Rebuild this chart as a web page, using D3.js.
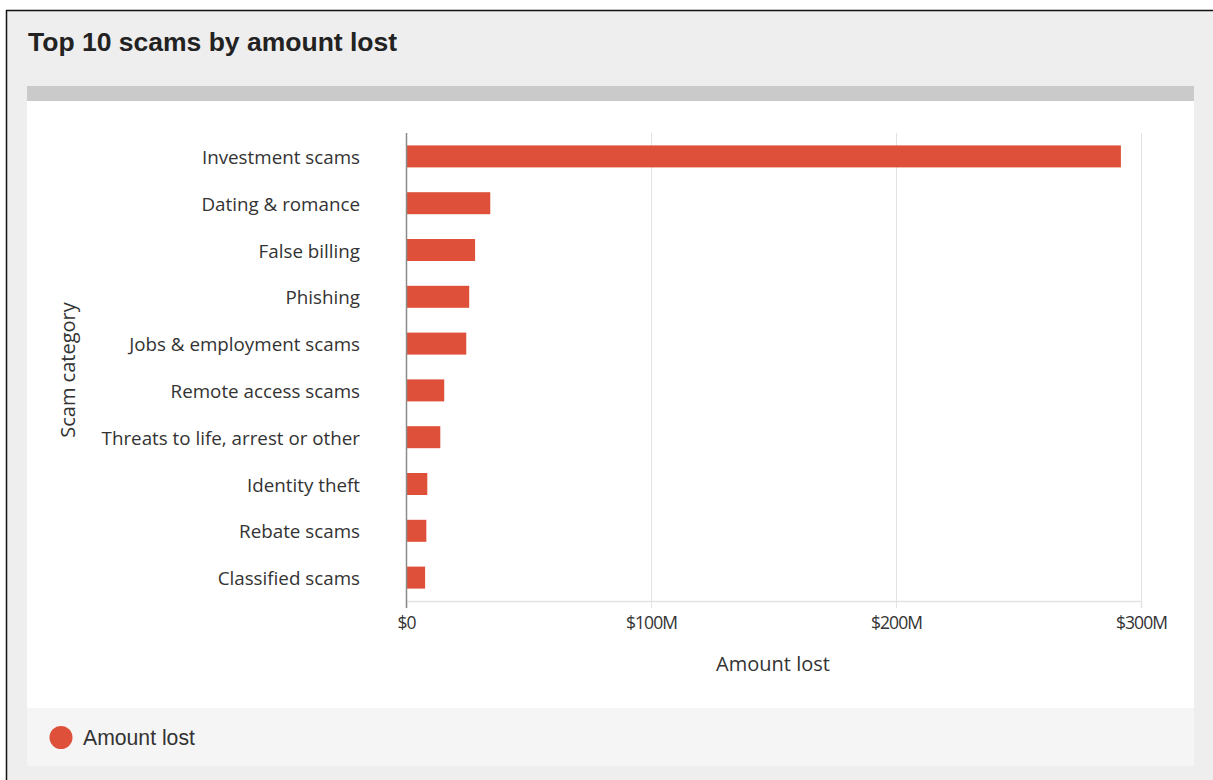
<!DOCTYPE html>
<html><head><meta charset="utf-8">
<script src="https://cdn.jsdelivr.net/npm/d3@7"></script>
<style>
html,body{margin:0;padding:0;background:#fff;}
svg{display:block;}
</style></head>
<body>
<script>
const categories = ["Investment scams","Dating & romance","False billing","Phishing","Jobs & employment scams","Remote access scams","Threats to life, arrest or other","Identity theft","Rebate scams","Classified scams"];
const amounts = [291.8e6, 34.4e6, 28.2e6, 25.8e6, 24.6e6, 15.6e6, 14.0e6, 8.7e6, 8.3e6, 7.8e6];
const tickValues = [0, 100e6, 200e6, 300e6];
const tickLabels = ["$0","$100M","$200M","$300M"];
const seriesName = "Amount lost";

const W = 1213, H = 780;
const svg = d3.select("body").append("svg").attr("width", W).attr("height", H);

// frame
svg.append("rect").attr("x",0).attr("y",0).attr("width",W).attr("height",H).attr("fill","#fff");
svg.append("rect").attr("x",7).attr("y",11).attr("width",W-7).attr("height",H-11).attr("fill","#eeeeee");
svg.append("line").attr("x1",6.5).attr("x2",6.5).attr("y1",10).attr("y2",H).attr("stroke","#111").attr("stroke-width",1.5);
svg.append("line").attr("x1",6).attr("x2",W).attr("y1",10.5).attr("y2",10.5).attr("stroke","#111").attr("stroke-width",1.5);

svg.append("text").attr("x",28).attr("y",51).text("Top 10 scams by amount lost")
  .attr("font-family","Liberation Sans, Arial, sans-serif").attr("font-weight","bold").attr("font-size",26.5).attr("fill","#222");

svg.append("rect").attr("x",27).attr("y",86).attr("width",1167).attr("height",15).attr("fill","#cacaca");
svg.append("rect").attr("x",27).attr("y",101).attr("width",1167).attr("height",607).attr("fill","#ffffff");
svg.append("rect").attr("x",27).attr("y",708).attr("width",1167).attr("height",58).attr("fill","#f5f5f5");

const color = "#de5039";
const x = d3.scaleLinear().domain([0, 300e6]).range([406, 1141]);
const y = d3.scaleBand().domain(categories).range([133, 601]).paddingInner(0.53).paddingOuter(0.265);

const font = "Open Sans, Noto Sans, sans-serif";

// gridlines
svg.append("g").selectAll("line").data(tickValues.slice(1)).join("line")
  .attr("x1", d=>x(d)+0.5).attr("x2", d=>x(d)+0.5).attr("y1",133).attr("y2",601)
  .attr("stroke","#e3e3e3").attr("stroke-width",1);

// x axis
const xAxis = svg.append("g").attr("transform","translate(0,601)")
  .call(d3.axisBottom(x).tickValues(tickValues).tickFormat((d,i)=>tickLabels[i]).tickSize(7).tickPadding(9));
xAxis.select(".domain").attr("stroke","#e3e3e3").attr("stroke-width",1.5);
xAxis.selectAll(".tick line").attr("stroke","#e3e3e3");
xAxis.selectAll(".tick text").attr("font-family",font).attr("font-size",17.5).attr("fill","#333").attr("letter-spacing","-0.9");

// bars
svg.append("g").selectAll("rect").data(amounts).join("rect")
  .attr("x", x(0)).attr("y",(d,i)=>y(categories[i])).attr("width", d=>x(d)-x(0)).attr("height", y.bandwidth())
  .attr("fill", color);

// y axis
const yAxis = svg.append("g").attr("transform","translate(406,1.5)")
  .call(d3.axisLeft(y).tickSize(0).tickPadding(46));
yAxis.select(".domain").remove();
yAxis.selectAll(".tick text").attr("font-family",font).attr("font-size",18.8).attr("fill","#333");
svg.append("line").attr("x1",406.5).attr("x2",406.5).attr("y1",133).attr("y2",608).attr("stroke","#8a8a8a").attr("stroke-width",1.5);

// axis titles
svg.append("text").attr("x",773).attr("y",671).attr("text-anchor","middle").text("Amount lost")
  .attr("font-family",font).attr("font-size",20).attr("fill","#333");
svg.append("text").attr("transform","translate(75,370) rotate(-90)").attr("text-anchor","middle").text("Scam category")
  .attr("font-family",font).attr("font-size",20).attr("fill","#333");

// legend
svg.append("circle").attr("cx",61).attr("cy",737.5).attr("r",11.5).attr("fill",color);
svg.append("text").attr("x",83).attr("y",744.5).text(seriesName)
  .attr("font-family","Liberation Sans, Arial, sans-serif").attr("font-size",21.2).attr("fill","#333");
</script>
</body></html>
